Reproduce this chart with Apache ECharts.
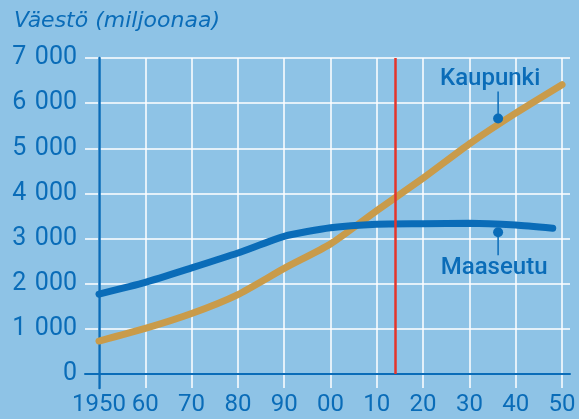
<!DOCTYPE html>
<html>
<head>
<meta charset="utf-8">
<script src="https://cdn.jsdelivr.net/npm/echarts@6/dist/echarts.min.js"></script>
<style>
  html, body { margin: 0; padding: 0; background: #8ec3e6; }
  #chart { width: 579px; height: 419px; }
</style>
</head>
<body>
<div id="chart"></div>
<script>
// data (millions of people)
var years = [1950, 1960, 1970, 1980, 1990, 2000, 2010, 2020, 2030, 2040, 2050]
var urban = [730, 1010, 1340, 1760, 2340, 2880, 3620, 4340, 5100, 5780, 6410]
var ruralYears = [1950, 1960, 1970, 1980, 1990, 2000, 2010, 2020, 2030, 2040, 2048]
var rural = [1770, 2030, 2350, 2680, 3050, 3240, 3320, 3330, 3340, 3300, 3230]
var yTicks = [0, 1000, 2000, 3000, 4000, 5000, 6000, 7000]
var seriesNames = ['Kaupunki', 'Maaseutu']
var markYear = 2014
// callout leaders: [year, dot value, end value]
var urbanCallout = [2036.2, 5660, 6258]
var ruralCallout = [2036.2, 3140, 2630]

var BLUE = '#0a6cb8'
var TAN = '#c99b4a'
var RED = '#e5352b'
var FONT = 'Roboto'

function pairs(xs, ys) {
    return xs.map(function (x, i) { return [x, ys[i]] })
}

function callout(c, name, pos, dx) {
    return {
        type: 'line',
        xAxisIndex: 1, yAxisIndex: 1,
        z: 4,
        silent: true,
        lineStyle: { color: BLUE, width: 1.5 },
        data: [
            { value: [c[0], c[1]], symbol: 'circle', symbolSize: 10, itemStyle: { color: BLUE } },
            {
                value: [c[0], c[2]], symbol: 'circle', symbolSize: 1,
                itemStyle: { color: 'rgba(0,0,0,0)' },
                label: {
                    show: true, position: pos, distance: 0, offset: [dx, 0],
                    formatter: name, color: BLUE,
                    fontFamily: FONT, fontSize: 24, fontWeight: 500
                }
            }
        ]
    }
}

var chart = echarts.init(document.getElementById('chart'))

chart.setOption({
    backgroundColor: '#8ec3e6',
    animation: false,
    title: {
        text: 'Väestö (miljoonaa)',
        left: 9, top: 5,
        textStyle: { color: BLUE, fontFamily: 'DejaVu Sans', fontSize: 22, fontStyle: 'italic', fontWeight: 'normal' }
    },
    grid: [
        // wide grid: horizontal gridlines and baseline
        { left: 85, right: 9, top: 58, bottom: 45 },
        // data grid
        { left: 99, right: 17, top: 58, bottom: 31 }
    ],
    xAxis: [
        {
            gridIndex: 0, type: 'value', min: 0, max: 1,
            axisLine: { show: true, lineStyle: { color: BLUE, width: 2 } },
            axisTick: { show: false }, axisLabel: { show: false }, splitLine: { show: false }
        },
        {
            gridIndex: 1, type: 'value', min: 1950, max: 2050, interval: 10,
            axisLine: { show: false },
            axisTick: { show: false },
            splitLine: { show: true, lineStyle: { color: '#ffffff', width: 1.5 } },
            axisLabel: {
                margin: 5, color: BLUE, fontFamily: FONT, fontSize: 24,
                formatter: function (v) {
                    return v === 1950 ? '1950' : String(v % 100).padStart(2, '0')
                }
            }
        }
    ],
    yAxis: [
        {
            gridIndex: 0, type: 'value', min: yTicks[0], max: yTicks[yTicks.length - 1], interval: 1000,
            axisLine: { show: false }, axisTick: { show: false },
            splitLine: { show: true, lineStyle: { color: '#ffffff', width: 1.5 } },
            axisLabel: {
                margin: 8, color: BLUE, fontFamily: FONT, fontSize: 25,
                formatter: function (v) {
                    return v >= 1000 ? Math.floor(v / 1000) + '\u2004' + String(v % 1000).padStart(3, '0') : String(v)
                }
            }
        },
        {
            // extends 14px below zero so the 1950 axis line and gridlines poke under the baseline
            gridIndex: 1, type: 'value', min: -310, max: 7000,
            axisLine: { show: true, onZero: false, lineStyle: { color: BLUE, width: 2.5 } },
            axisTick: { show: false }, axisLabel: { show: false }, splitLine: { show: false }
        }
    ],
    series: [
        {
            name: seriesNames[0], type: 'line',
            xAxisIndex: 1, yAxisIndex: 1,
            data: pairs(years, urban),
            smooth: 0.2, symbol: 'none', z: 3,
            lineStyle: { color: TAN, width: 7, cap: 'round' },
            markLine: {
                silent: true, symbol: 'none', label: { show: false },
                lineStyle: { color: RED, width: 2.5, type: 'solid' },
                data: [[{ coord: [markYear, 0] }, { coord: [markYear, 7000] }]]
            }
        },
        {
            name: seriesNames[1], type: 'line',
            xAxisIndex: 1, yAxisIndex: 1,
            data: pairs(ruralYears, rural),
            smooth: 0.2, symbol: 'none', z: 3,
            lineStyle: { color: BLUE, width: 7, cap: 'round' }
        },
        callout(urbanCallout, seriesNames[0], 'top', -8),
        callout(ruralCallout, seriesNames[1], 'bottom', -4)
    ]
})
</script>
</body>
</html>
